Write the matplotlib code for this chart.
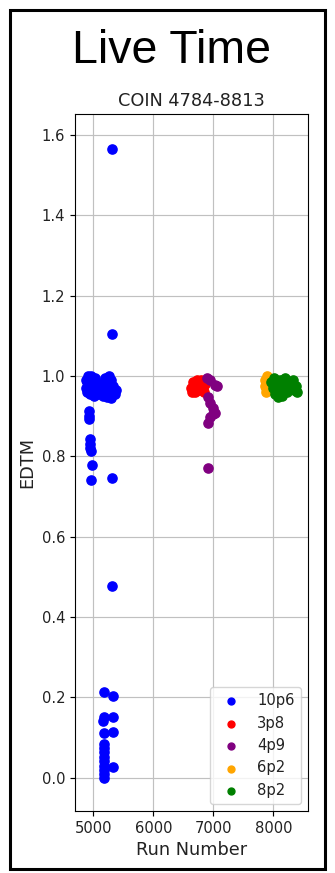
import numpy as np
import matplotlib
matplotlib.use("Agg")
import matplotlib.pyplot as plt
from matplotlib.patches import Rectangle

# EDTM per run, grouped by setting
run_10p6 = [4870, 4880, 4890, 4900, 4910, 4925, 4940, 4950, 4965, 4980, 5000, 5010,
            5030, 5045, 5060, 5080, 5140, 5160, 5175, 5190, 5200, 5215, 5230, 5250,
            5260, 5275, 5290, 5300, 5320, 5340, 5360, 5385,
            4930, 4935, 4930, 4945, 4950, 4945, 4955, 4970, 4955, 5317,
            5315, 5315, 5317,
            5180, 5320, 5170, 5320, 5160, 5175, 5320,
            5175, 5185, 5170, 5180, 5175, 5170, 5180, 5175, 5180, 5320]
edtm_10p6 = [0.99, 0.97, 0.985, 0.96, 1.0, 0.975, 0.955, 0.99, 1.0, 0.97, 0.985, 0.95,
             0.995, 0.965, 0.98, 0.955, 0.97, 0.95, 0.985, 0.96, 0.995, 0.975, 0.948, 0.985,
             1.0, 0.965, 0.945, 0.99, 0.975, 0.96, 0.955, 0.965,
             0.912, 0.90, 0.892, 0.842, 0.83, 0.82, 0.814, 0.778, 0.74, 0.747,
             1.566, 1.104, 0.477,
             0.213, 0.203, 0.151, 0.151, 0.14, 0.11, 0.114,
             0.085, 0.074, 0.063, 0.052, 0.041, 0.03, 0.02, 0.01, 0.0, 0.027]

run_3p8 = [6620, 6640, 6660, 6680, 6700, 6720, 6740, 6760, 6780, 6800, 6820, 6840, 6860]
edtm_3p8 = [0.97, 0.96, 0.985, 0.975, 0.96, 0.99, 0.98, 0.965, 0.975, 0.99, 0.97, 0.96, 0.98]

run_4p9 = [6895, 6945, 7028, 7060, 6917, 6945, 7000, 7028, 6945, 7000, 6917, 6907]
edtm_4p9 = [0.995, 0.99, 0.977, 0.975, 0.948, 0.932, 0.919, 0.907, 0.897, 0.905, 0.882, 0.772]

run_6p2 = [7855, 7860, 7870, 7880, 7885, 7890, 7900]
edtm_6p2 = [0.99, 0.975, 0.96, 0.985, 0.97, 1.0, 0.965]

run_8p2 = [7960, 7990, 8010, 8030, 8060, 8090, 8110, 8140, 8170, 8200, 8230, 8260,
           8290, 8320, 8350, 8395, 8380, 8080]
edtm_8p2 = [0.985, 0.97, 0.995, 0.955, 0.98, 0.965, 0.99, 0.95, 0.975, 0.995, 0.96, 0.985,
            0.97, 0.99, 0.965, 0.96, 0.975, 0.947]

groups = [("10p6", run_10p6, edtm_10p6, "blue"),
          ("3p8", run_3p8, edtm_3p8, "red"),
          ("4p9", run_4p9, edtm_4p9, "purple"),
          ("6p2", run_6p2, edtm_6p2, "orange"),
          ("8p2", run_8p2, edtm_8p2, "green")]

fig = plt.figure(figsize=(3.35, 8.73), dpi=100)
ax = fig.add_axes([75/335, 1-811/873, 233/335, 697/873])

for name, runs, vals, col in groups:
    ax.scatter(runs, vals, s=44, color=col, label=name)

ax.set_xlim(4695, 8578)
ax.set_ylim(-0.083, 1.652)
ax.set_xticks([5000, 6000, 7000, 8000])
ax.set_yticks(np.arange(0, 1.61, 0.2))
ax.set_axisbelow(True)
ax.grid(True, color="#c0c0c0", lw=0.85)
ax.tick_params(labelsize=10.6, length=5/1.389, width=0.85, labelcolor="#222222")
ax.set_title("COIN 4784-8813", fontsize=12.8, color="#222222")
ax.set_xlabel("Run Number", fontsize=12.8, color="#222222")
ax.set_ylabel("EDTM", fontsize=12.8, color="#222222")
leg = ax.legend(loc="lower right", fontsize=10.6, markerscale=0.75)
for t in leg.get_texts():
    t.set_color("#222222")

fig.text(171/335, 1-63/873, "Live Time", fontsize=33.5, family="Liberation Sans",
         ha="center", va="baseline")

# frame round the whole figure
fig.patches.append(Rectangle((9.5/335, 1-869/873), 315/335, 859.5/873,
                             transform=fig.transFigure, fill=False,
                             edgecolor="black", lw=2.2))

fig.savefig("out.png", dpi=100)
